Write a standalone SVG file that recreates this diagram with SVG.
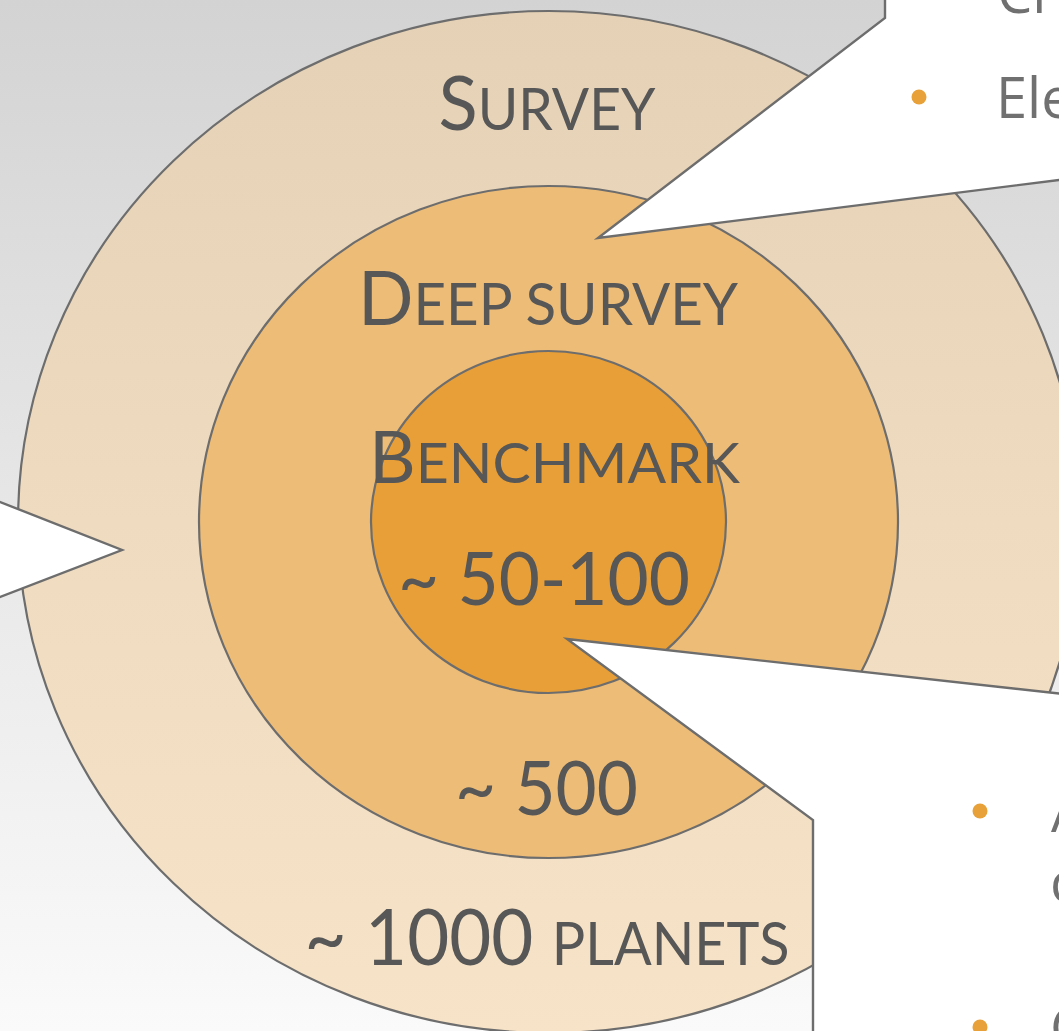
<svg xmlns="http://www.w3.org/2000/svg" width="1059" height="1031" viewBox="0 0 1059 1031">
  <defs>
    <linearGradient id="bg" x1="0" y1="0" x2="0" y2="1031" gradientUnits="userSpaceOnUse">
      <stop offset="0" stop-color="#d3d3d3"/>
      <stop offset="0.5" stop-color="#e7e7e7"/>
      <stop offset="1" stop-color="#fafafa"/>
    </linearGradient>
    <linearGradient id="outerFill" x1="0" y1="11" x2="0" y2="1033" gradientUnits="userSpaceOnUse">
      <stop offset="0" stop-color="#e5d1b5"/>
      <stop offset="0.5" stop-color="#efdbc0"/>
      <stop offset="1" stop-color="#f7e3c7"/>
    </linearGradient>
    <style>
      .ring { stroke: #6d6d6d; stroke-width: 2.2; }
      .label { font-family: "Lato", "Liberation Sans", sans-serif; font-weight: 400; fill: #575757; text-anchor: middle; }
      .callout { fill: #ffffff; stroke: #6d6d6d; stroke-width: 2.4; stroke-linejoin: miter; }
      .note { font-family: "Open Sans", "Noto Sans", "Liberation Sans", sans-serif; font-size: 56px; fill: #707070; }
      .dot { fill: #e8a038; }
    </style>
  </defs>

  <!-- backdrop -->
  <rect x="0" y="0" width="1059" height="1031" fill="url(#bg)"/>

  <!-- outer ring: survey -->
  <g id="ring-survey">
    <ellipse class="ring" cx="549" cy="522" rx="531" ry="511" fill="url(#outerFill)"/>
    <text class="label" x="547" y="130" textLength="217" lengthAdjust="spacingAndGlyphs"><tspan font-size="76">S</tspan><tspan font-size="58">URVEY</tspan></text>
    <text class="label" x="547" y="965" textLength="485" lengthAdjust="spacingAndGlyphs"><tspan font-size="78">~ 1000 </tspan><tspan font-size="60">PLANETS</tspan></text>
  </g>

  <!-- middle ring: deep survey -->
  <g id="ring-deep">
    <ellipse class="ring" cx="548.5" cy="522" rx="349.5" ry="336" fill="#edbc77"/>
    <text class="label" x="548" y="325" textLength="380" lengthAdjust="spacingAndGlyphs"><tspan font-size="75">D</tspan><tspan font-size="58">EEP SURVEY</tspan></text>
    <text class="label" x="546.5" y="815" font-size="76" textLength="183" lengthAdjust="spacingAndGlyphs">~ 500</text>
  </g>

  <!-- inner ring: benchmark -->
  <g id="ring-benchmark">
    <ellipse class="ring" cx="548.5" cy="522" rx="177.5" ry="171" fill="#e89f37"/>
    <text class="label" x="554.5" y="483" textLength="371" lengthAdjust="spacingAndGlyphs"><tspan font-size="72">B</tspan><tspan font-size="57">ENCHMARK</tspan></text>
    <text class="label" x="544" y="605" font-size="74" textLength="292" lengthAdjust="spacingAndGlyphs">~ 50-100</text>
  </g>

  <!-- callout pointing into the deep survey ring -->
  <g id="callout-top">
    <polygon class="callout" points="885,-5 885,18 598,238 1070,178.6 1070,-5"/>
    <text class="note" x="997" y="13">Cl</text>
    <circle class="dot" cx="919" cy="97" r="7.5"/>
    <text class="note" x="996" y="118">Ele</text>
  </g>

  <!-- callout pointing into the survey ring -->
  <g id="callout-left">
    <polygon class="callout" points="-5,500 122,550 -5,599"/>
  </g>

  <!-- callout pointing into the benchmark core -->
  <g id="callout-bottom">
    <polygon class="callout" points="1070,694.8 567,639 813,820 813,1040 1070,1040"/>
    <circle class="dot" cx="980" cy="811" r="7.5"/>
    <text class="note" x="1051" y="832">A</text>
    <text class="note" x="1050" y="902">c</text>
    <circle class="dot" cx="980" cy="1027" r="7.5"/>
    <text class="note" x="1050" y="1048">C</text>
  </g>
</svg>
